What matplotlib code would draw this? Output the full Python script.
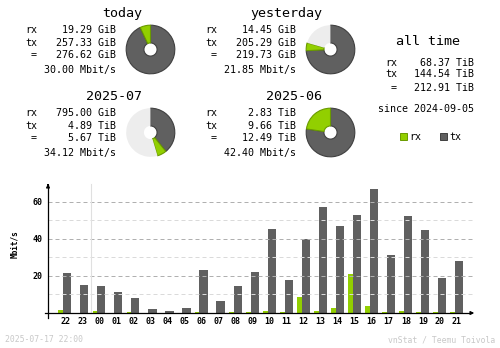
import matplotlib
matplotlib.use("Agg")
import matplotlib.pyplot as plt

# period summaries
periods = ["today", "yesterday", "2025-07", "2025-06"]
rx_vals = [19.29, 14.45, 795.00, 2.83]
rx_units = ["GiB", "GiB", "GiB", "TiB"]
tx_vals = [257.33, 205.29, 4.89, 9.66]
tx_units = ["GiB", "GiB", "TiB", "TiB"]
total_vals = [276.62, 219.73, 5.67, 12.49]
total_units = ["GiB", "GiB", "TiB", "TiB"]
rates = [30.00, 21.85, 34.12, 42.40]

# all time
alltime_rx = 68.37
alltime_tx = 144.54
alltime_total = 212.91
since = "2024-09-05"

# hourly rates, Mbit/s
hours = ["22", "23", "00", "01", "02", "03", "04", "05", "06", "07", "08", "09",
         "10", "11", "12", "13", "14", "15", "16", "17", "18", "19", "20", "21"]
rx_hourly = [1.8, 0.0, 1.1, 0.0, 0.5, 0.0, 0.0, 0.0, 0.5, 0.0, 0.5, 0.5,
             1.1, 0.5, 8.6, 1.1, 2.7, 21.1, 3.8, 0.5, 1.1, 0.5, 0.5, 0.5]
tx_hourly = [21.8, 15.3, 14.8, 11.4, 8.1, 2.2, 1.1, 2.7, 23.2, 6.5, 14.6, 22.2,
             45.4, 17.8, 40.0, 57.3, 47.0, 53.0, 67.0, 31.4, 52.4, 44.9, 18.9, 28.1]

timestamp = "2025-07-17 22:00"
credit = "vnStat / Teemu Toivola"

RX_COLOR = "#92cf00"
TX_COLOR = "#606060"
RX_EDGE = "#6a9a00"
TX_EDGE = "#404040"
REST_COLOR = "#ededed"
MONO = "DejaVu Sans Mono"
UNIT = {"GiB": 1.0, "TiB": 1024.0}

W, H = 500, 348
fig = plt.figure(figsize=(W / 100, H / 100), dpi=100)
bg = fig.add_axes([0, 0, 1, 1])
bg.set_xlim(0, W)
bg.set_ylim(H, 0)
bg.axis("off")


def txt(x, y, s, size=7.2, ha="right", **kw):
    bg.text(x, y, s, fontsize=size, ha=ha, va="baseline", family=MONO, **kw)


def donut(cx, cy, tx, rx, full, r=24.8, hole=6.7):
    pax = fig.add_axes([(cx - r) / W, (H - cy - r) / H, 2 * r / W, 2 * r / H])
    rest = max(full - tx - rx, 0.0)
    wedges, _ = pax.pie([tx, rx, rest], colors=[TX_COLOR, RX_COLOR, REST_COLOR],
                        startangle=90, counterclock=False,
                        wedgeprops=dict(width=(r - hole) / r))
    wedges[0].set_edgecolor(TX_EDGE)
    wedges[0].set_linewidth(0.8)
    wedges[1].set_edgecolor(RX_EDGE)
    wedges[1].set_linewidth(0.8)
    wedges[2].set_linewidth(0)
    pax.set_xlim(-1.02, 1.02)
    pax.set_ylim(-1.02, 1.02)
    pax.axis("off")


# four summary panels
col_dx = [0, 180, 0, 180]
row_dy = [0, 0, 83, 83]
for i, name in enumerate(periods):
    dx, dy = col_dx[i], row_dy[i]
    txt(142 + dx, 17 + dy, name, size=9.6)
    txt(37 + dx, 33.3 + dy, "rx")
    txt(37 + dx, 45.7 + dy, "tx")
    txt(37 + dx, 58.3 + dy, "=")
    txt(115.5 + dx, 33.3 + dy, f"{rx_vals[i]:.2f} {rx_units[i]}")
    txt(115.5 + dx, 45.7 + dy, f"{tx_vals[i]:.2f} {tx_units[i]}")
    txt(115.5 + dx, 58.3 + dy, f"{total_vals[i]:.2f} {total_units[i]}")
    txt(115.5 + dx, 73.3 + dy, f"{rates[i]:.2f} Mbit/s")

    # each pair of periods shares the larger total as a full circle
    pair = [i - i % 2, i - i % 2 + 1]
    full = max(total_vals[j] * UNIT[total_units[j]] for j in pair)
    donut(150.5 + dx, 49.5 + dy,
          tx_vals[i] * UNIT[tx_units[i]], rx_vals[i] * UNIT[rx_units[i]], full)

# all time block
txt(428, 45, "all time", size=9.6, ha="center")
txt(397, 65.7, "rx")
txt(397, 77.3, "tx")
txt(397, 91.3, "=")
txt(474, 65.7, f"{alltime_rx:.2f} TiB")
txt(474, 77.3, f"{alltime_tx:.2f} TiB")
txt(474, 91.3, f"{alltime_total:.2f} TiB")
txt(474, 111.5, f"since {since}")

# legend
for x0, color, edge, label in [(400, RX_COLOR, RX_EDGE, "rx"), (440, TX_COLOR, TX_EDGE, "tx")]:
    bg.add_patch(plt.Rectangle((x0, 133), 6.5, 6.5, facecolor=color, edgecolor=edge, lw=0.7))
    txt(x0 + 9.5, 140, label, ha="left")

# footer
txt(5, 342.5, timestamp, size=5.9, ha="left", color="#c8c8c8")
txt(495.5, 342.5, credit, size=5.9, color="#c8c8c8")

# hourly bar chart
ax = fig.add_axes([48 / W, (H - 313) / H, (477 - 48) / W, (313 - 181) / H])
ax.set_xlim(-1.0, 24.18)
ax.set_ylim(0, 71.35)
for s in ax.spines.values():
    s.set_visible(False)

for v in [10, 30, 50]:
    ax.plot([-1.0, 23.94], [v, v], color="#dadada", lw=0.72, dashes=(4, 3))
for v in [20, 40, 60]:
    ax.plot([-1.0, 23.94], [v, v], color="#b0b0b0", lw=0.72, dashes=(4, 3))
ax.plot([1.5, 1.5], [0, 69.7], color="#e0e0e0", lw=0.8)

x = list(range(len(hours)))
ax.bar([p - 0.246 for p in x], rx_hourly, width=0.276, color=RX_COLOR, lw=0)
ax.bar([p + 0.129 for p in x], tx_hourly, width=0.48, color=TX_COLOR, lw=0)

# axes with arrow heads
ax.plot([0, 0], [-5 / 132, 0.97], transform=ax.transAxes, color="black", lw=0.9, clip_on=False)
ax.plot([-3 / 429, 0.985], [0, 0], transform=ax.transAxes, color="black", lw=0.9, clip_on=False)
ax.annotate("", xy=(0, 1.0), xytext=(0, 0.95), xycoords="axes fraction",
            arrowprops=dict(arrowstyle="-|>", color="black", lw=0.9, mutation_scale=5))
ax.annotate("", xy=(1.0, 0), xytext=(0.98, 0), xycoords="axes fraction",
            arrowprops=dict(arrowstyle="-|>", color="black", lw=0.9, mutation_scale=5))

ax.set_xticks(x)
ax.set_xticklabels(hours, family=MONO, fontsize=6, fontweight="bold")
ax.set_yticks([20, 40, 60])
ax.set_yticklabels(["20", "40", "60"], family=MONO, fontsize=6, fontweight="bold")
ax.tick_params(length=0)
ax.tick_params(axis="x", pad=3)
ax.tick_params(axis="y", pad=4)
bg.text(15, 244, "Mbit/s", rotation=90, ha="center", va="center",
        family=MONO, fontsize=5.6, fontweight="bold")

fig.savefig("out.png", dpi=100, facecolor="white")
